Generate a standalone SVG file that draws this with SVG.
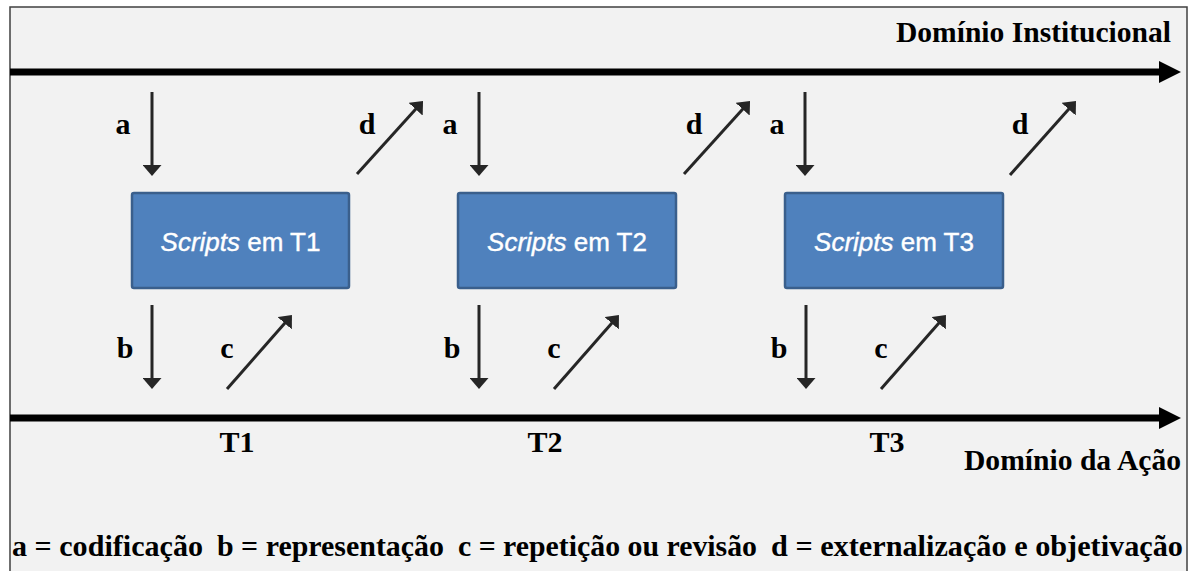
<svg xmlns="http://www.w3.org/2000/svg" width="1191" height="571" viewBox="0 0 1191 571">
<style>
.lbl{font-family:"Liberation Serif","Times New Roman",serif;font-weight:bold;font-size:30px;fill:#000}
.box{fill:#4f81bd;stroke:#3a5f8c;stroke-width:2.5}
.btxt{font-family:"Liberation Sans",Arial,sans-serif;font-size:26px;fill:#fff;text-anchor:middle;stroke:#fff;stroke-width:0.4}
.arr{stroke:#262626;stroke-width:3;fill:none;marker-end:url(#ah)}
.axis{stroke:#000;stroke-width:7}
</style>
<defs>
<marker id="ah" viewBox="0 0 11 19" refX="5" refY="9.5" markerWidth="11" markerHeight="19" markerUnits="userSpaceOnUse" orient="auto">
<path d="M0,0 L11,9.5 L0,19 z" fill="#262626"/>
</marker>
</defs>
<rect x="0" y="0" width="1191" height="571" fill="#fff"/>
<rect x="10" y="7" width="1177" height="580" fill="#f2f2f2" stroke="#404040" stroke-width="1.5"/>
<g id="axes">
<line class="axis" x1="10" y1="72" x2="1162" y2="72"/>
<path d="M1159,61 L1181,72 L1159,83 z" fill="#000"/>
<line class="axis" x1="10" y1="418" x2="1162" y2="418"/>
<path d="M1159,407 L1181,418 L1159,429 z" fill="#000"/>
</g>
<text class="lbl" x="1171" y="42" text-anchor="end" textLength="275" lengthAdjust="spacingAndGlyphs">Domínio Institucional</text>
<text class="lbl" x="1181" y="470" text-anchor="end" textLength="217" lengthAdjust="spacingAndGlyphs">Domínio da Ação</text>
<g id="node-t1">
<rect class="box" x="132" y="193" width="217" height="95" rx="2"/>
<text class="btxt" x="240.5" y="251"><tspan font-style="italic">Scripts</tspan> em T1</text>
</g>
<g id="node-t2">
<rect class="box" x="458" y="193" width="218" height="95" rx="2"/>
<text class="btxt" x="567" y="251"><tspan font-style="italic">Scripts</tspan> em T2</text>
</g>
<g id="node-t3">
<rect class="box" x="785" y="193" width="218" height="95" rx="2"/>
<text class="btxt" x="894" y="251"><tspan font-style="italic">Scripts</tspan> em T3</text>
</g>
<g id="connectors">
<line class="arr" x1="152" y1="92" x2="152" y2="170"/>
<line class="arr" x1="479" y1="92" x2="479" y2="170"/>
<line class="arr" x1="805" y1="92" x2="805" y2="170"/>
<line class="arr" x1="357" y1="174" x2="419" y2="105.5"/>
<line class="arr" x1="684" y1="174" x2="746" y2="105.5"/>
<line class="arr" x1="1010" y1="175" x2="1072" y2="105.5"/>
<line class="arr" x1="152" y1="305" x2="152" y2="383"/>
<line class="arr" x1="479" y1="305" x2="479" y2="383"/>
<line class="arr" x1="806" y1="305" x2="806" y2="383"/>
<line class="arr" x1="227" y1="389" x2="288" y2="319.5"/>
<line class="arr" x1="554" y1="389" x2="615" y2="319.5"/>
<line class="arr" x1="881" y1="389" x2="942" y2="319.5"/>
</g>
<g id="labels">
<text class="lbl" x="123" y="134" text-anchor="middle">a</text>
<text class="lbl" x="450" y="134" text-anchor="middle">a</text>
<text class="lbl" x="777" y="134" text-anchor="middle">a</text>
<text class="lbl" x="367" y="134" text-anchor="middle">d</text>
<text class="lbl" x="694" y="134" text-anchor="middle">d</text>
<text class="lbl" x="1020" y="134" text-anchor="middle">d</text>
<text class="lbl" x="125" y="358" text-anchor="middle">b</text>
<text class="lbl" x="452" y="358" text-anchor="middle">b</text>
<text class="lbl" x="779" y="358" text-anchor="middle">b</text>
<text class="lbl" x="227" y="358" text-anchor="middle">c</text>
<text class="lbl" x="554" y="358" text-anchor="middle">c</text>
<text class="lbl" x="881" y="358" text-anchor="middle">c</text>
<text class="lbl" x="237" y="452" text-anchor="middle">T1</text>
<text class="lbl" x="545" y="452" text-anchor="middle">T2</text>
<text class="lbl" x="887" y="452" text-anchor="middle">T3</text>
</g>
<g id="legend">
<text class="lbl" y="556"><tspan x="12" textLength="191" lengthAdjust="spacingAndGlyphs">a = codificação</tspan><tspan x="217" textLength="227" lengthAdjust="spacingAndGlyphs">b = representação</tspan><tspan x="458" textLength="299" lengthAdjust="spacingAndGlyphs">c = repetição ou revisão</tspan><tspan x="771" textLength="412" lengthAdjust="spacingAndGlyphs">d = externalização e objetivação</tspan></text>
</g>
</svg>
